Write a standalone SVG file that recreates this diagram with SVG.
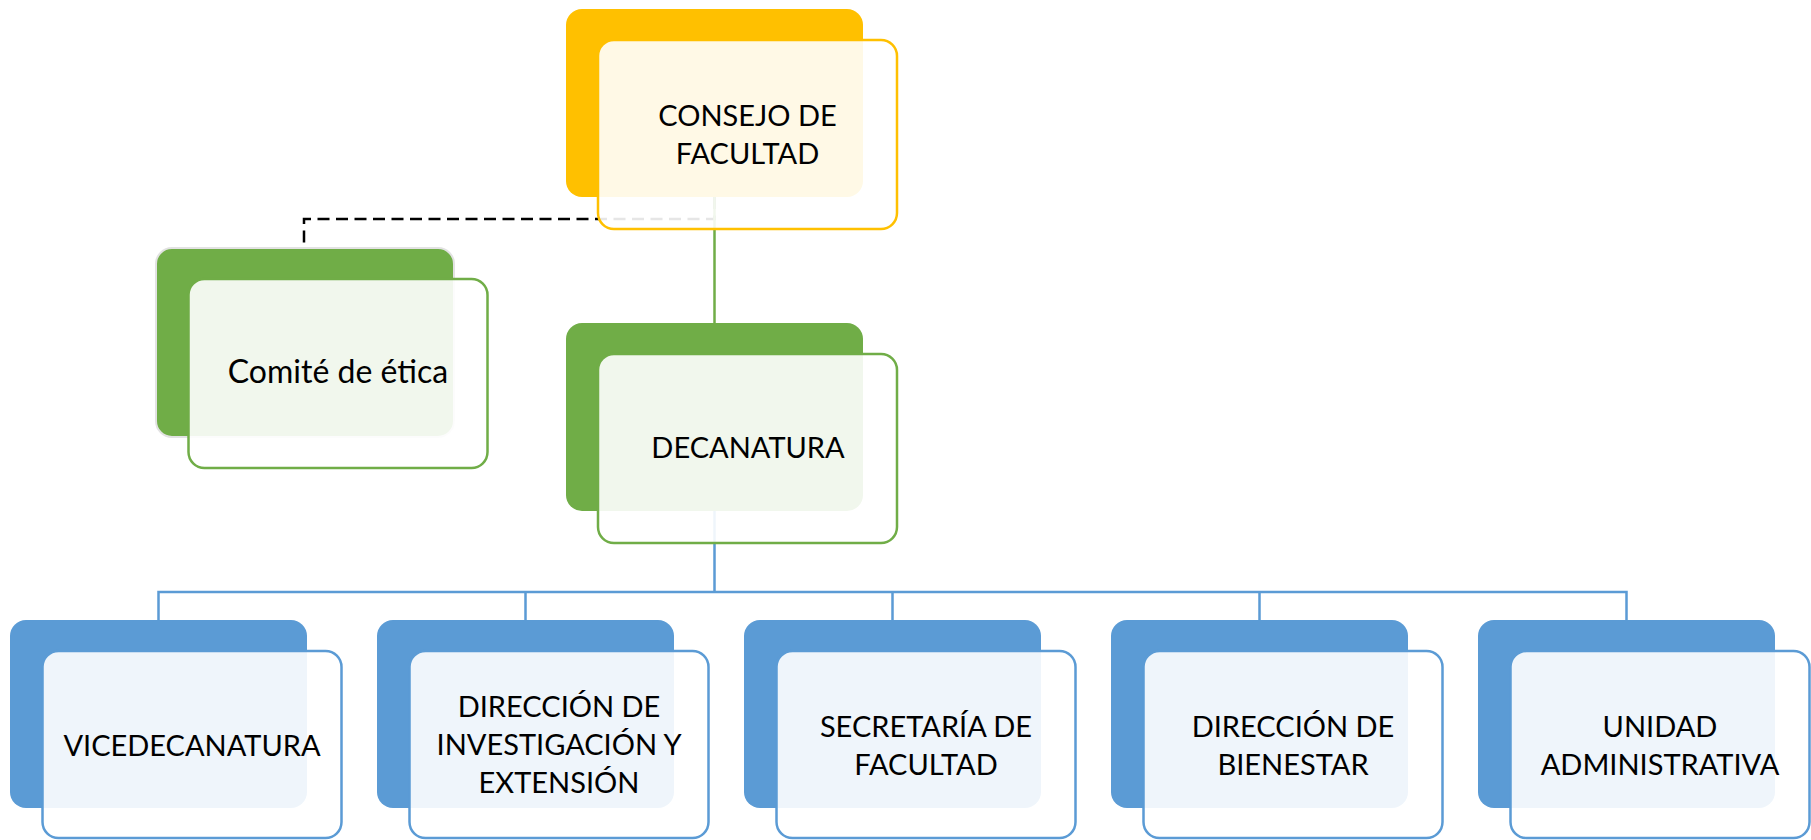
<svg xmlns="http://www.w3.org/2000/svg" width="1811" height="840" viewBox="0 0 1811 840">
<style>
.t{font-family:Lato,"Open Sans","Liberation Sans",sans-serif;font-size:29px;fill:#000;text-anchor:middle}
.lc{font-size:32px}
.front{fill:#fff;fill-opacity:0.9;stroke-width:2.5}
.y .back{fill:#FFC000}.y .front{stroke:#FFC000}
.g .back{fill:#70AD47}.g .front{stroke:#70AD47}
.b .back{fill:#5B9BD5}.b .front{stroke:#5B9BD5}
.c{fill:none;stroke-width:2.5}
</style>
<rect width="1811" height="840" fill="#fff"/>
<g id="connectors">
<path class="c" d="M714.5 197V219H304V247" stroke="#000" stroke-width="2" stroke-dasharray="12 6.5"/>
<path class="c" d="M714.5 197V323" stroke="#70AD47"/>
<path class="c" d="M714.5 511V592M158.5 620V592H1626.5V620M525.5 592V620M892.5 592V620M1259.5 592V620" stroke="#5B9BD5"/>
</g>
<g id="consejo" class="y">
<rect class="back" x="566" y="9" width="297" height="188" rx="16"/>
<rect class="front" x="598" y="40" width="299" height="189" rx="16"/>
<text class="t" x="747.5" y="126">CONSEJO DE</text>
<text class="t" x="747.5" y="164">FACULTAD</text>
</g>
<g id="comite" class="g">
<rect class="back" x="156" y="248" width="298" height="189" rx="16" stroke="#E2E2E2" stroke-width="2"/>
<rect class="front" x="188.5" y="279" width="299" height="189" rx="16"/>
<text class="t lc" x="338" y="383">Comité de ética</text>
</g>
<g id="decanatura" class="g">
<rect class="back" x="566" y="323" width="297" height="188" rx="16"/>
<rect class="front" x="598" y="354" width="299" height="189" rx="16"/>
<text class="t" x="748" y="458">DECANATURA</text>
</g>
<g id="vicedecanatura" class="b">
<rect class="back" x="10" y="620" width="297" height="188" rx="16"/>
<rect class="front" x="42.5" y="651" width="299" height="187" rx="16"/>
<text class="t" x="192" y="756">VICEDECANATURA</text>
</g>
<g id="investigacion" class="b">
<rect class="back" x="377" y="620" width="297" height="188" rx="16"/>
<rect class="front" x="409.5" y="651" width="299" height="187" rx="16"/>
<text class="t" x="559" y="717">DIRECCIÓN DE</text>
<text class="t" x="559" y="755">INVESTIGACIÓN Y</text>
<text class="t" x="559" y="793">EXTENSIÓN</text>
</g>
<g id="secretaria" class="b">
<rect class="back" x="744" y="620" width="297" height="188" rx="16"/>
<rect class="front" x="776.5" y="651" width="299" height="187" rx="16"/>
<text class="t" x="926" y="737">SECRETARÍA DE</text>
<text class="t" x="926" y="775">FACULTAD</text>
</g>
<g id="bienestar" class="b">
<rect class="back" x="1111" y="620" width="297" height="188" rx="16"/>
<rect class="front" x="1143.5" y="651" width="299" height="187" rx="16"/>
<text class="t" x="1293" y="737">DIRECCIÓN DE</text>
<text class="t" x="1293" y="775">BIENESTAR</text>
</g>
<g id="unidad" class="b">
<rect class="back" x="1478" y="620" width="297" height="188" rx="16"/>
<rect class="front" x="1510.5" y="651" width="299" height="187" rx="16"/>
<text class="t" x="1660" y="737">UNIDAD</text>
<text class="t" x="1660" y="775">ADMINISTRATIVA</text>
</g>
</svg>
